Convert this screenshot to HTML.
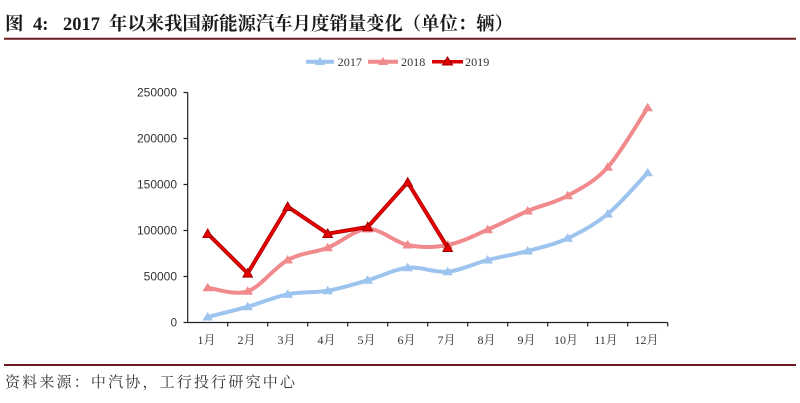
<!DOCTYPE html>
<html>
<head>
<meta charset="utf-8">
<style>
html,body{margin:0;padding:0;background:#fff;}
svg{display:block;}
.ser{font-family:"Liberation Serif","Noto Serif CJK SC","Noto Sans CJK SC",serif;}
.san{font-family:"Liberation Sans","Noto Sans CJK SC",sans-serif;}
</style>
</head>
<body>
<svg width="800" height="403" viewBox="0 0 800 403" xmlns="http://www.w3.org/2000/svg">
<rect width="800" height="403" fill="#fff"/>
<!-- Title -->
<text class="ser" x="5" y="30" font-size="18.5" font-weight="bold" fill="#1a1a1a">图</text>
<text class="ser" x="33" y="30" font-size="18.5" font-weight="bold" fill="#1a1a1a">4:</text>
<text class="ser" x="63" y="30" font-size="18.5" font-weight="bold" fill="#1a1a1a" textLength="37" lengthAdjust="spacingAndGlyphs">2017</text>
<text class="ser" x="109" y="30" font-size="18.5" font-weight="bold" fill="#1a1a1a" textLength="404" lengthAdjust="spacingAndGlyphs">年以来我国新能源汽车月度销量变化（单位：辆）</text>
<line x1="4" y1="38.8" x2="796" y2="38.8" stroke="#6b1c22" stroke-width="2"/>

<!-- Legend -->
<line x1="306" y1="61.7" x2="334" y2="61.7" stroke="#9cc4ef" stroke-width="4"/>
<polygon points="320,57 325,65 315,65" fill="#9cc4ef"/>
<text class="ser" x="337.7" y="66" font-size="12" fill="#333" textLength="24.3" lengthAdjust="spacingAndGlyphs">2017</text>
<line x1="368" y1="61.7" x2="398" y2="61.7" stroke="#f08a8c" stroke-width="4"/>
<polygon points="383,57 388,65 378,65" fill="#f08a8c"/>
<text class="ser" x="401" y="66" font-size="12" fill="#333" textLength="24.3" lengthAdjust="spacingAndGlyphs">2018</text>
<line x1="432" y1="61.7" x2="463" y2="61.7" stroke="#d80000" stroke-width="3.5"/>
<polygon points="447.5,57 452.5,65 442.5,65" fill="#e00000" stroke="#a00000" stroke-width="1"/>
<text class="ser" x="465" y="66" font-size="12" fill="#333" textLength="24.3" lengthAdjust="spacingAndGlyphs">2019</text>

<!-- Axes -->
<g stroke="#222" stroke-width="1.2" fill="none">
<line x1="187.7" y1="92.5" x2="187.7" y2="322.5"/>
<line x1="187.7" y1="322.5" x2="667.7" y2="322.5"/>
<line x1="183.5" y1="92.5" x2="187.7" y2="92.5"/>
<line x1="183.5" y1="138.5" x2="187.7" y2="138.5"/>
<line x1="183.5" y1="184.5" x2="187.7" y2="184.5"/>
<line x1="183.5" y1="230.5" x2="187.7" y2="230.5"/>
<line x1="183.5" y1="276.5" x2="187.7" y2="276.5"/>
<line x1="183.5" y1="322.5" x2="187.7" y2="322.5"/>
<line x1="227.7" y1="322.5" x2="227.7" y2="326.5"/>
<line x1="267.7" y1="322.5" x2="267.7" y2="326.5"/>
<line x1="307.7" y1="322.5" x2="307.7" y2="326.5"/>
<line x1="347.7" y1="322.5" x2="347.7" y2="326.5"/>
<line x1="387.7" y1="322.5" x2="387.7" y2="326.5"/>
<line x1="427.7" y1="322.5" x2="427.7" y2="326.5"/>
<line x1="467.7" y1="322.5" x2="467.7" y2="326.5"/>
<line x1="507.7" y1="322.5" x2="507.7" y2="326.5"/>
<line x1="547.7" y1="322.5" x2="547.7" y2="326.5"/>
<line x1="587.7" y1="322.5" x2="587.7" y2="326.5"/>
<line x1="627.7" y1="322.5" x2="627.7" y2="326.5"/>
<line x1="667.7" y1="322.5" x2="667.7" y2="326.5"/>
</g>

<!-- Y labels -->
<g class="san" font-size="11.5" fill="#333" text-anchor="end">
<text x="177" y="96.5" textLength="40" lengthAdjust="spacingAndGlyphs">250000</text>
<text x="177" y="142.5" textLength="40" lengthAdjust="spacingAndGlyphs">200000</text>
<text x="177" y="188.5" textLength="40" lengthAdjust="spacingAndGlyphs">150000</text>
<text x="177" y="234.5" textLength="40" lengthAdjust="spacingAndGlyphs">100000</text>
<text x="177" y="280.5" textLength="33.3" lengthAdjust="spacingAndGlyphs">50000</text>
<text x="177" y="326.5">0</text>
</g>

<!-- X labels -->
<g class="ser" font-size="12" fill="#333" text-anchor="middle">
<text x="206.5" y="344">1月</text>
<text x="246.5" y="344">2月</text>
<text x="286.5" y="344">3月</text>
<text x="326.5" y="344">4月</text>
<text x="366.5" y="344">5月</text>
<text x="406.5" y="344">6月</text>
<text x="446.5" y="344">7月</text>
<text x="486.5" y="344">8月</text>
<text x="526.5" y="344">9月</text>
<text x="566" y="344">10月</text>
<text x="606" y="344">11月</text>
<text x="646.5" y="344">12月</text>
</g>

<!-- 2017 series -->
<path d="M207.7,317 C214.4,315.3 234.4,310.5 247.7,306.7 C261,302.9 274.4,297 287.7,294.3 C301,291.6 314.4,293 327.7,290.7 C341,288.4 354.4,284.1 367.7,280.3 C381,276.5 394.4,269.1 407.7,267.7 C421,266.3 434.4,273 447.7,271.7 C461,270.4 474.4,263.5 487.7,260 C501,256.6 514.4,254.6 527.7,251 C541,247.4 554.4,244.5 567.7,238.3 C581,232.1 594.4,224.9 607.7,214 C621,203.1 641,179.6 647.7,172.7" fill="none" stroke="#9cc4ef" stroke-width="4" stroke-linejoin="round" stroke-linecap="round"/>
<g fill="#9cc4ef">
<polygon points="207.7,312 213,320.5 202.4,320.5"/>
<polygon points="247.7,301.7 253,310.2 242.4,310.2"/>
<polygon points="287.7,289.3 293,297.8 282.4,297.8"/>
<polygon points="327.7,285.7 333,294.2 322.4,294.2"/>
<polygon points="367.7,275.3 373,283.8 362.4,283.8"/>
<polygon points="407.7,262.7 413,271.2 402.4,271.2"/>
<polygon points="447.7,266.7 453,275.2 442.4,275.2"/>
<polygon points="487.7,255 493,263.5 482.4,263.5"/>
<polygon points="527.7,246 533,254.5 522.4,254.5"/>
<polygon points="567.7,233.3 573,241.8 562.4,241.8"/>
<polygon points="607.7,209 613,217.5 602.4,217.5"/>
<polygon points="647.7,167.7 653,176.2 642.4,176.2"/>
</g>

<!-- 2018 series -->
<path d="M207.7,287.7 C214.4,288.3 234.4,295.9 247.7,291.3 C261,286.7 274.4,267.3 287.7,260 C301,252.7 314.4,252.9 327.7,247.7 C341,242.5 354.4,229.5 367.7,229 C381,228.6 394.4,242.3 407.7,245 C421,247.7 434.4,247.6 447.7,245 C461,242.5 474.4,235.4 487.7,229.7 C501,224 514.4,216.7 527.7,211 C541,205.3 554.4,203 567.7,195.7 C581,188.4 594.4,182 607.7,167.3 C621,152.6 641,117.6 647.7,107.7" fill="none" stroke="#f08a8c" stroke-width="4" stroke-linejoin="round" stroke-linecap="round"/>
<g fill="#f08a8c">
<polygon points="207.7,282.7 213,291.2 202.4,291.2"/>
<polygon points="247.7,286.3 253,294.8 242.4,294.8"/>
<polygon points="287.7,255 293,263.5 282.4,263.5"/>
<polygon points="327.7,242.7 333,251.2 322.4,251.2"/>
<polygon points="367.7,224 373,232.5 362.4,232.5"/>
<polygon points="407.7,240 413,248.5 402.4,248.5"/>
<polygon points="447.7,240 453,248.5 442.4,248.5"/>
<polygon points="487.7,224.7 493,233.2 482.4,233.2"/>
<polygon points="527.7,206 533,214.5 522.4,214.5"/>
<polygon points="567.7,190.7 573,199.2 562.4,199.2"/>
<polygon points="607.7,162.3 613,170.8 602.4,170.8"/>
<polygon points="647.7,102.7 653,111.2 642.4,111.2"/>
</g>

<!-- 2019 series -->
<polyline points="207.7,233.7 247.7,273.3 287.7,206.7 327.7,233.7 367.7,227 407.7,182.3 447.7,247.7" fill="none" stroke="#b00000" stroke-width="4" stroke-linejoin="miter"/>
<polyline points="207.7,233.7 247.7,273.3 287.7,206.7 327.7,233.7 367.7,227 407.7,182.3 447.7,247.7" fill="none" stroke="#e60000" stroke-width="2.4" stroke-linejoin="miter"/>
<g fill="#e60000" stroke="#a00000" stroke-width="1">
<polygon points="207.7,229 212.5,237.5 202.9,237.5"/>
<polygon points="247.7,268.6 252.5,277.1 242.9,277.1"/>
<polygon points="287.7,202 292.5,210.5 282.9,210.5"/>
<polygon points="327.7,229 332.5,237.5 322.9,237.5"/>
<polygon points="367.7,222.3 372.5,230.8 362.9,230.8"/>
<polygon points="407.7,177.6 412.5,186.1 402.9,186.1"/>
<polygon points="447.7,243 452.5,251.5 442.9,251.5"/>
</g>

<!-- Footer -->
<line x1="4" y1="365" x2="796" y2="365" stroke="#6b1c22" stroke-width="2"/>
<text class="ser" x="5" y="387" font-size="15" fill="#333" textLength="290" lengthAdjust="spacing">资料来源：中汽协，工行投行研究中心</text>
</svg>
</body>
</html>
